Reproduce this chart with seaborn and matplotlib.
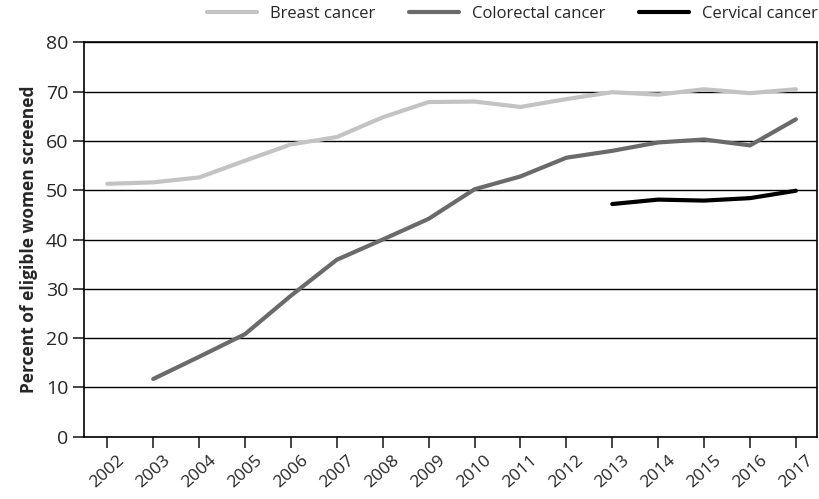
import numpy as np
import pandas as pd
import seaborn as sns
import matplotlib.pyplot as plt

# === Data ===
years = list(range(2002, 2018))
breast = [51.3, 51.6, 52.6, 56.0, 59.3, 60.8, 64.8, 67.9, 68.0, 66.9, 68.5, 69.9, 69.4, 70.5, 69.7, 70.5]
colorectal = [np.nan, 11.7, 16.2, 20.8, 28.6, 35.9, 40.0, 44.2, 50.2, 52.8, 56.6, 58.0, 59.7, 60.3, 59.1, 64.4]
cervical = [np.nan] * 11 + [47.2, 48.1, 47.9, 48.4, 49.9]
series_names = ["Breast cancer", "Colorectal cancer", "Cervical cancer"]
palette = ["#c3c3c3", "#6a6a6a", "#000000"]

df = pd.DataFrame({"Year": years, series_names[0]: breast,
                   series_names[1]: colorectal, series_names[2]: cervical})
long = df.melt(id_vars="Year", var_name="Series", value_name="Percent").dropna()

sns.set_style("white")
plt.rcParams["font.family"] = ["Open Sans", "DejaVu Sans"]

fig, ax = plt.subplots(figsize=(8.19, 4.99), dpi=100)
sns.lineplot(data=long, x="Year", y="Percent", hue="Series", hue_order=series_names,
             palette=palette, linewidth=3, ax=ax)

ax.set_xlim(2001.5, 2017.45)
ax.set_ylim(0, 80)
ax.set_xticks(years)
ax.set_xticklabels([str(y) for y in years], rotation=42, fontsize=12.5)
ax.set_yticks(range(0, 81, 10))
ax.tick_params(axis="y", labelsize=14, length=8, width=1.2, direction="out", left=True)
ax.tick_params(axis="x", length=8, width=1.2, direction="out", bottom=True)
ax.yaxis.grid(True, color="black", linewidth=1)
ax.set_axisbelow(True)
for s in ax.spines.values():
    s.set_color("black")
    s.set_linewidth(1.2)
ax.set_xlabel("")
ax.set_ylabel("Percent of eligible women screened", fontsize=12.5, fontweight="bold", labelpad=6)

ax.legend(loc="lower center", bbox_to_anchor=(0.585, 1.035), ncol=3, frameon=False,
          fontsize=12, handlelength=3.0, columnspacing=2.0, handletextpad=0.8,
          borderaxespad=0)

plt.subplots_adjust(left=0.103, right=0.997, top=0.915, bottom=0.125)
plt.savefig("out.png", dpi=100)
